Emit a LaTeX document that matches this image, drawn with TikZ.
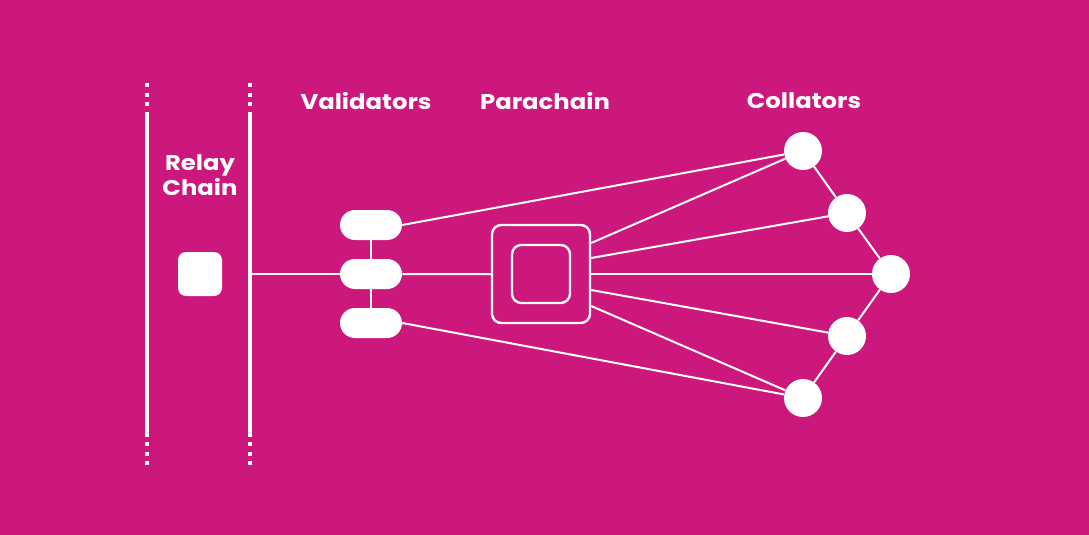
\documentclass[tikz,border=0pt]{standalone}
\usepackage{fontspec}
\setmainfont{Poppins}[FakeStretch=1.14]
\usetikzlibrary{arrows.meta, positioning, shapes.misc, calc, backgrounds}
\definecolor{dotPink}{HTML}{CC177D}
\definecolor{dotWhite}{HTML}{FFFFFF}
\tikzset{
  rail/.style={draw=dotWhite, line width=3pt},
  railDots/.style={draw=dotWhite, line width=3pt, dash pattern=on 3pt off 4.2pt},
  link/.style={draw=dotWhite, line width=1.5pt},
  title/.style={text=dotWhite, font=\bfseries\fontsize{16}{18}\selectfont, align=center},
  blockBox/.style={rectangle, rounded corners=6pt, fill=dotWhite,
                   minimum width=33pt, minimum height=33pt, inner sep=0pt},
  pill/.style={rounded rectangle, fill=dotWhite, minimum width=46.5pt,
               minimum height=22.5pt, inner sep=0pt},
  paraBox/.style={rectangle, rounded corners=7pt, draw=dotWhite, line width=1.8pt,
                  minimum width=73.5pt, minimum height=73.5pt, inner sep=0pt},
  paraCore/.style={rectangle, rounded corners=7pt, draw=dotWhite, line width=1.8pt,
                   minimum width=43.5pt, minimum height=43.5pt, inner sep=0pt},
  collator/.style={circle, fill=dotWhite, minimum size=28.5pt, inner sep=0pt},
}
\begin{document}
\begin{tikzpicture}[x=0.75pt, y=-0.75pt]
    \begin{scope}[on background layer]
      \fill[dotPink] (0,0) rectangle (1089,535);
    \end{scope}
    \useasboundingbox (0,0) rectangle (1089,535);

    % relay chain rails
    \foreach \x in {147,250} {
      \draw[rail] (\x,112) -- (\x,437);
      \draw[railDots] (\x,83) -- (\x,110);
      \draw[railDots] (\x,442) -- (\x,469);
    }
    \coordinate (rr) at (250,274);

    % headings
    \node[title] (relayT) at (200,175) {Relay\\[1pt]Chain};
    \node[title] (valT) at (366,101) {Validators};
    \node[title] (paraT) at (545,101) {Parachain};
    \node[title] (colT) at (804,101) {Collators};

    % relay block
    \node[blockBox] (relay) at (200,274) {};

    % validators
    \node[pill] (v1) at (371,225) {};
    \node[pill] (v2) at (371,274) {};
    \node[pill] (v3) at (371,323) {};

    % parachain
    \node[paraBox] (para) at (541,274) {};
    \node[paraCore] (core) at (541,274) {};

    % collators
    \node[collator] (c1) at (803,151) {};
    \node[collator] (c2) at (847,213) {};
    \node[collator] (c3) at (891,274) {};
    \node[collator] (c4) at (847,336) {};
    \node[collator] (c5) at (803,398) {};

    \begin{scope}[on background layer]
      \draw[link] (rr) -- (v2);
      \draw[link] (v1) -- (v2) -- (v3);
      \draw[link] (v2) -- (para);
      \draw[link] (v1.east) -- (c1);
      \draw[link] (v3.east) -- (c5);
      \draw[link] ($(para.east)+(0,-31)$) -- (c1);
      \draw[link] ($(para.east)+(0,-16)$) -- (c2);
      \draw[link] (para.east) -- (c3);
      \draw[link] ($(para.east)+(0,16)$) -- (c4);
      \draw[link] ($(para.east)+(0,32)$) -- (c5);
      \draw[link] (c1) -- (c2) -- (c3) -- (c4) -- (c5);
    \end{scope}
\end{tikzpicture}
\end{document}
